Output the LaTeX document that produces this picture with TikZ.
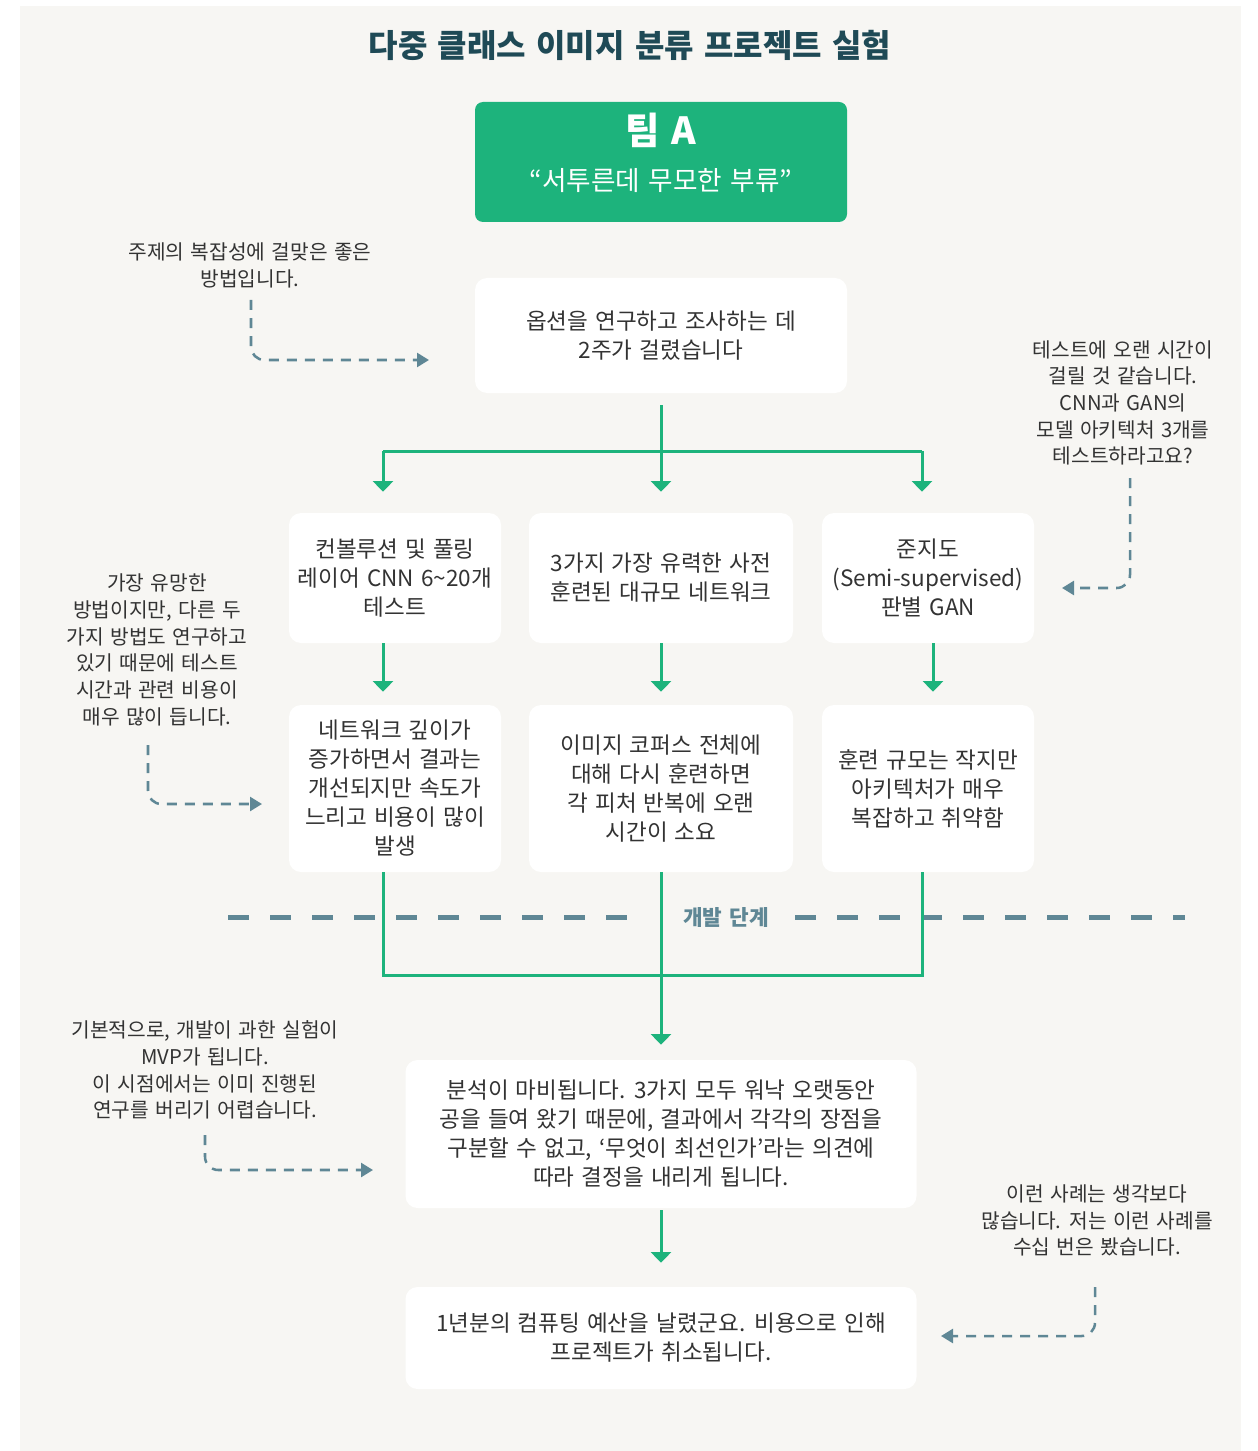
\documentclass[tikz,border=0pt]{standalone}
\usepackage{fontspec}
\setmainfont[WordSpace=1.4]{Noto Sans CJK KR}
\usetikzlibrary{arrows.meta}
\definecolor{panel}{HTML}{F7F6F3}
\definecolor{grn}{HTML}{1DB37C}
\definecolor{ttl}{HTML}{1F4A56}
\definecolor{slate}{HTML}{5F8795}
\definecolor{txt}{HTML}{333333}
\begin{document}
\begin{tikzpicture}[x=0.75pt,y=-0.75pt,
 box/.style={fill=white, rounded corners=9pt, inner sep=0pt, align=center, text=txt, font=\fontsize{16.9}{21.75}\selectfont},
 note/.style={align=center, text=txt, font=\fontsize{15.2}{20}\selectfont, inner sep=0pt},
 flow/.style={draw=grn, line width=2.25pt, -{Triangle[width=15pt,length=8pt]}},
 flowline/.style={draw=grn, line width=2.25pt},
 annot/.style={draw=slate, line width=1.9pt, dash pattern=on 7.5pt off 6pt, rounded corners=10pt, -{Triangle[width=10.5pt,length=9pt]}},
 sep/.style={draw=slate, line width=3.75pt, dash pattern=on 15.75pt off 15.75pt},
]
\fill[white] (0,0) rectangle (1257,1451);
\useasboundingbox (0,0) rectangle (1257,1451);
\fill[panel] (20,6) rectangle (1241,1451);

% title
\node[text=ttl, font=\fontsize{24}{28}\selectfont\bfseries] (title) at (630,45) {다중 클래스 이미지 분류 프로젝트 실험};

% team box
\node[fill=grn, rounded corners=6pt, minimum width=279pt, minimum height=90pt, inner sep=0pt] (team) at (661,162) {};
\node[text=white, font=\fontsize{28}{32}\selectfont\bfseries] (teamname) at (661,130) {팀 A};
\node[text=white, font=\fontsize{20}{24}\selectfont] (teamquote) at (661,181) {“서투른데 무모한 부류”};

% boxes
\node[box, minimum width=279pt, minimum height=86.25pt] (b1) at (661,335.5) {옵션을 연구하고 조사하는 데\\2주가 걸렸습니다};

\node[box, minimum width=159pt, minimum height=97.5pt] (r2a) at (395,578) {컨볼루션 및 풀링\\레이어 CNN 6\textasciitilde20개\\테스트};
\node[box, minimum width=198pt, minimum height=97.5pt] (r2b) at (661,578) {3가지 가장 유력한 사전\\훈련된 대규모 네트워크};
\node[box, minimum width=159pt, minimum height=97.5pt] (r2c) at (928,578) {준지도\\(Semi-supervised)\\판별 GAN};

\node[box, minimum width=159pt, minimum height=125.25pt] (r3a) at (395,788.5) {네트워크 깊이가\\증가하면서 결과는\\개선되지만 속도가\\느리고 비용이 많이\\발생};
\node[box, minimum width=198pt, minimum height=125.25pt] (r3b) at (661,788.5) {이미지 코퍼스 전체에\\대해 다시 훈련하면\\각 피처 반복에 오랜\\시간이 소요};
\node[box, minimum width=159pt, minimum height=125.25pt] (r3c) at (928,788.5) {훈련 규모는 작지만\\아키텍처가 매우\\복잡하고 취약함};

\node[box, minimum width=383.25pt, minimum height=111pt] (bd) at (661,1134) {분석이 마비됩니다. 3가지 모두 워낙 오랫동안\\공을 들여 왔기 때문에, 결과에서 각각의 장점을\\구분할 수 없고, ‘무엇이 최선인가’라는 의견에\\따라 결정을 내리게 됩니다.};
\node[box, minimum width=383.25pt, minimum height=76.5pt] (be) at (661,1338) {1년분의 컴퓨팅 예산을 날렸군요. 비용으로 인해\\프로젝트가 취소됩니다.};

% separator
\draw[sep] (228,917) -- (628,917);
\draw[sep] (795,917) -- (1185,917);
\node[text=slate, font=\fontsize{16}{19}\selectfont\bfseries] (phase) at (726,917) {개발 단계};

% flow connectors
\coordinate (jl) at (383,451);
\coordinate (jm) at (661,451);
\coordinate (jr) at (922,451);
\draw[flowline] ([yshift=-9pt]b1.south) -- (jm);
\draw[flowline] (jl) -- (jr);
\draw[flow] (jl) -- ([xshift=-9pt,yshift=15.75pt]r2a.north);
\draw[flow] (jm) -- ([yshift=15.75pt]r2b.north);
\draw[flow] (jr) -- ([xshift=-4.5pt,yshift=15.75pt]r2c.north);

\draw[flow] ([xshift=-9pt]r2a.south) -- ([xshift=-9pt,yshift=9.75pt]r3a.north);
\draw[flow] (r2b.south) -- ([yshift=9.75pt]r3b.north);
\draw[flow] ([xshift=3.75pt]r2c.south) -- ([xshift=3.75pt,yshift=9.75pt]r3c.north);

\coordinate (mb) at (661,975);
\draw[flowline] ([xshift=-9pt]r3a.south) |- (mb) -| ([xshift=-4.5pt]r3c.south);
\draw[flow] (r3b.south) -- ([yshift=11.25pt]bd.north);
\draw[flow] ([yshift=-1.5pt]bd.south) -- ([yshift=18pt]be.north);

% annotations
\node[note] (n1) at (250,265.5) {주제의 복잡성에 걸맞은 좋은\\방법입니다.};
\node[note] (n2) at (1123,403) {테스트에 오랜 시간이\\걸릴 것 같습니다.\\CNN과 GAN의\\모델 아키텍처 3개를\\테스트하라고요?};
\node[note] (n3) at (157,650) {가장 유망한\\방법이지만, 다른 두\\가지 방법도 연구하고\\있기 때문에 테스트\\시간과 관련 비용이\\매우 많이 듭니다.};
\node[note] (n4) at (205,1070) {기본적으로, 개발이 과한 실험이\\MVP가 됩니다.\\이 시점에서는 이미 진행된\\연구를 버리기 어렵습니다.};
\node[note] (n5) at (1097,1220.5) {이런 사례는 생각보다\\많습니다. 저는 이런 사례를\\수십 번은 봤습니다.};

\coordinate (s1) at (251,300);  \coordinate (t1) at (429,360);
\coordinate (s2) at (1130,478); \coordinate (t2) at (1062,588);
\coordinate (s3) at (148,745);  \coordinate (t3) at (262,804);
\coordinate (s4) at (205,1135); \coordinate (t4) at (373,1170);
\coordinate (s5) at (1095,1287);\coordinate (t5) at (941,1336);
\draw[annot] (s1) |- (t1);
\draw[annot] (s2) |- (t2);
\draw[annot] (s3) |- (t3);
\draw[annot] (s4) |- (t4);
\draw[annot] (s5) |- (t5);
\end{tikzpicture}
\end{document}
